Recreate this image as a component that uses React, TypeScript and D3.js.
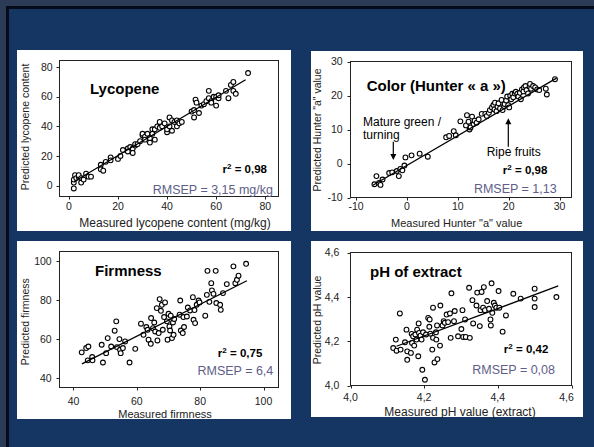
import React from "react";
import * as d3 from "d3";

// ---------- DATA ----------
const lycopenePoints: [number, number][] = [
  [2, -2], [2, 2], [2, 4], [2.5, 7], [3, 5], [4, 6], [4, 7], [5, 5], [5, 2], [6, 4], [7, 8], [8, 6], [9, 6],
  [13, 14], [13, 11], [14, 10], [15, 16], [17, 19], [17, 17], [20, 18], [21, 20], [22, 24], [24, 25], [24, 23],
  [25, 26], [26, 25], [26, 22], [27, 27], [27, 28], [28, 28], [29, 30], [30, 34], [30, 35], [31, 33], [31, 31],
  [32, 35], [33, 32], [33, 29], [34, 38], [34, 35], [35, 38], [35, 31], [36, 40], [37, 43], [37, 39], [38, 40],
  [39, 42], [40, 36], [40, 38], [41, 46], [41, 40], [42, 37], [42, 44], [43, 43], [44, 44], [44, 40], [45, 42],
  [46, 43], [50, 50], [51.6, 58], [51, 46], [51, 51], [52, 56], [53, 49], [54, 54], [55, 55], [56, 57], [57, 64],
  [57, 59], [58, 57], [58, 56], [59, 60], [60, 60], [60, 54], [61, 59], [61, 61], [64, 64], [65, 59], [66, 68],
  [67, 70], [67, 64], [68, 62], [73, 76],
];
const lycopeneFit: [number, number][] = [[2, 2.5], [72, 71.5]];

const colorPoints: [number, number][] = [
  [-6.4, -6.1], [-6.0, -3.7], [-5.5, -5.7], [-5.2, -6.3], [-4.8, -4.7], [-3.5, -2.8], [-2.9, -2.6], [-2.0, -2.2],
  [-1.6, -3.7], [-1.3, -1.6], [-0.9, -2.0], [-0.5, -0.6], [-0.3, 1.8], [0.9, 2.4], [2.5, 2.9], [4.1, 2.0],
  [7.7, 7.7], [8.3, 8.1], [9.2, 9.5], [9.6, 8.3], [10.5, 12.4], [11.6, 11.2], [11.8, 14.2], [12.1, 12.3],
  [12.3, 10.0], [12.5, 10.6], [12.8, 13.8], [13.1, 11.6], [13.3, 12.6], [13.7, 12.0], [14.1, 13.0], [14.7, 14.6],
  [15.4, 14.6], [15.7, 14.0], [16.1, 14.9], [16.3, 15.7], [16.7, 16.5], [17.0, 17.2], [17.2, 15.9], [17.3, 17.9],
  [17.6, 15.4], [17.8, 16.7], [18.0, 17.7], [18.3, 16.2], [18.6, 18.7], [18.8, 15.7], [19.1, 16.9], [19.2, 17.5],
  [19.5, 18.5], [19.7, 19.7], [19.9, 17.2], [20.1, 16.5], [20.3, 19.9], [20.5, 18.9], [20.7, 20.5], [20.9, 19.5],
  [21.2, 20.6], [21.4, 21.1], [21.7, 20.5], [21.9, 19.7], [22.2, 20.8], [22.4, 18.9], [22.6, 21.8], [22.9, 21.2],
  [23.0, 22.4], [23.3, 22.8], [23.5, 21.6], [23.8, 20.6], [24.1, 22.6], [24.2, 23.4], [24.4, 22.0], [24.8, 22.8],
  [25.2, 22.4], [25.6, 21.8], [26.0, 21.6], [27.3, 22.0], [27.5, 20.3], [29.1, 24.8],
];
const colorFit: [number, number][] = [[-6.7, -6.4], [29.4, 25.1]];

const firmnessPoints: [number, number][] = [
  [42.6, 53.2], [44.0, 55.4], [44.7, 56.2], [44.5, 49.1], [45.9, 50.8], [46.0, 49.1], [48.9, 57.1], [49.3, 48.0],
  [50.3, 52.8], [50.8, 60.5], [51.9, 56.2], [53.0, 64.3], [53.5, 69.1], [53.7, 55.9], [54.5, 60.0], [54.7, 54.5],
  [54.9, 52.8], [55.6, 55.4], [56.3, 58.8], [57.7, 48.0], [59.5, 55.0], [61.3, 67.9], [62.1, 62.2], [63.0, 66.2],
  [63.4, 64.8], [63.7, 59.7], [64.4, 57.6], [64.5, 70.8], [65.1, 65.6], [65.5, 68.5], [65.8, 63.9], [66.3, 75.9],
  [66.5, 59.3], [66.9, 63.1], [67.2, 80.5], [67.6, 74.5], [67.9, 77.6], [68.2, 64.8], [68.6, 71.3], [68.9, 78.8],
  [69.5, 69.1], [69.7, 59.7], [70.0, 73.0], [70.3, 66.5], [70.5, 64.4], [70.7, 72.0], [71.1, 60.5], [71.4, 68.5],
  [71.6, 62.2], [71.8, 70.3], [73.5, 72.5], [73.7, 79.8], [73.9, 64.4], [74.5, 63.1], [74.7, 71.3], [74.9, 66.2],
  [75.8, 71.6], [76.1, 76.2], [76.8, 74.7], [77.7, 81.5], [77.9, 69.9], [78.2, 74.9], [78.4, 68.2], [78.9, 77.6],
  [79.5, 79.8], [79.8, 78.8], [81.6, 72.0], [82.1, 82.7], [82.3, 95.0], [82.9, 79.1], [83.5, 88.7], [83.7, 85.0],
  [84.2, 83.2], [84.9, 95.0], [85.1, 78.5], [86.3, 77.6], [86.5, 75.0], [87.2, 83.6], [88.4, 88.2], [90.5, 97.3],
  [91.1, 88.7], [91.6, 90.4], [92.1, 92.5], [94.5, 98.6],
];
const firmnessFit: [number, number][] = [[42.65, 47.3], [94.75, 89.9]];

const phPoints: [number, number][] = [
  [4.116, 4.169], [4.123, 4.207], [4.125, 4.157], [4.134, 4.325], [4.136, 4.162], [4.148, 4.195], [4.152, 4.252],
  [4.154, 4.154], [4.154, 4.116], [4.164, 4.147], [4.166, 4.233], [4.167, 4.192], [4.170, 4.222], [4.173, 4.180],
  [4.176, 4.230], [4.179, 4.207], [4.181, 4.252], [4.184, 4.132], [4.185, 4.280], [4.186, 4.237], [4.190, 4.225],
  [4.193, 4.207], [4.195, 4.071], [4.197, 4.240], [4.202, 4.026], [4.205, 4.230], [4.211, 4.305], [4.214, 4.265],
  [4.215, 4.298], [4.217, 4.234], [4.222, 4.162], [4.224, 4.351], [4.224, 4.215], [4.228, 4.104], [4.232, 4.240],
  [4.233, 4.207], [4.235, 4.271], [4.236, 4.119], [4.243, 4.180], [4.244, 4.361], [4.250, 4.271], [4.253, 4.290],
  [4.256, 4.283], [4.261, 4.320], [4.265, 4.286], [4.270, 4.325], [4.272, 4.215], [4.274, 4.416], [4.281, 4.290],
  [4.283, 4.336], [4.292, 4.222], [4.301, 4.255], [4.304, 4.340], [4.306, 4.219], [4.311, 4.298], [4.313, 4.219],
  [4.324, 4.215], [4.322, 4.441], [4.331, 4.385], [4.333, 4.280], [4.342, 4.361], [4.344, 4.419], [4.351, 4.268],
  [4.353, 4.340], [4.356, 4.422], [4.360, 4.351], [4.362, 4.444], [4.365, 4.340], [4.371, 4.381], [4.376, 4.346],
  [4.380, 4.298], [4.381, 4.271], [4.383, 4.461], [4.385, 4.328], [4.389, 4.373], [4.392, 4.361], [4.396, 4.351],
  [4.402, 4.426], [4.404, 4.351], [4.413, 4.243], [4.422, 4.316], [4.442, 4.414], [4.462, 4.392], [4.500, 4.437],
  [4.500, 4.392], [4.500, 4.354], [4.559, 4.399],
];
const phFit: [number, number][] = [[4.125, 4.177], [4.564, 4.449]];

const lycopeneXTicks = [0, 20, 40, 60, 80];
const lycopeneYTicks = [0, 20, 40, 60, 80];
const colorXTicks = [-10, 0, 10, 20, 30];
const colorYTicks = [-10, 0, 10, 20, 30];
const firmnessXTicks = [40, 60, 80, 100];
const firmnessYTicks = [40, 60, 80, 100];
const phXTicks = [4.0, 4.2, 4.4, 4.6];
const phYTicks = [4.0, 4.2, 4.4, 4.6];

// ---------- STYLE / LAYOUT ----------
const FONT = "'Liberation Sans', Arial, sans-serif";
const BG = "#153663";
const RMSEP_COLOR = "#5e5e88";

const commaFmt = (digits: number) => (v: number) => v.toFixed(digits).replace(".", ",");

type Panel = {
  box: [number, number, number, number];
  frame: { left: number; right: number; top: number; bottom: number };
  xDomain: [number, number];
  yDomain: [number, number];
  xTicks: number[];
  yTicks: number[];
  fmt: (v: number) => string;
  points: [number, number][];
  fit: [number, number][];
  title: string;
  titleX: number;
  titleY: number;
  r2: string;
  r2X: number;
  r2Y: number;
  rmsep: string;
  rmsepX: number;
  rmsepY: number;
  xTitle: string;
  xTitleX: number;
  xTitleY: number;
  xTitleSize: number;
  yTitle: string;
  yTitleX: number;
  yTitleY: number;
  yLabelX: number;
  xLabelY: number;
};

const panels: Panel[] = [
  {
    box: [17, 50, 291, 231],
    frame: { left: 59.5, right: 278.5, top: 60.5, bottom: 196.5 },
    xDomain: [-3.83, 85.4],
    yDomain: [-7.43, 84.5],
    xTicks: lycopeneXTicks,
    yTicks: lycopeneYTicks,
    fmt: (v) => String(v),
    points: lycopenePoints,
    fit: lycopeneFit,
    title: "Lycopene",
    titleX: 90,
    titleY: 94,
    r2: "0,98",
    r2X: 267,
    r2Y: 173,
    rmsep: "RMSEP = 3,15 mg/kg",
    rmsepX: 273,
    rmsepY: 193.5,
    xTitle: "Measured lycopene content (mg/kg)",
    xTitleX: 175,
    xTitleY: 227,
    xTitleSize: 12,
    yTitle: "Predicted lycopene content",
    yTitleX: 29,
    yTitleY: 127,
    yLabelX: 52.7,
    xLabelY: 209.5,
  },
  {
    box: [311, 51, 583, 231],
    frame: { left: 350.5, right: 571.5, top: 61.5, bottom: 197.5 },
    xDomain: [-11.1, 32.35],
    yDomain: [-10, 30],
    xTicks: colorXTicks,
    yTicks: colorYTicks,
    fmt: (v) => String(v),
    points: colorPoints,
    fit: colorFit,
    title: "Color (Hunter \u00ab a \u00bb)",
    titleX: 366.7,
    titleY: 91,
    r2: "0,98",
    r2X: 547.3,
    r2Y: 174,
    rmsep: "RMSEP = 1,13",
    rmsepX: 556.7,
    rmsepY: 193,
    xTitle: 'Measured Hunter "a" value',
    xTitleX: 456.7,
    xTitleY: 227,
    xTitleSize: 11,
    yTitle: 'Predicted Hunter "a" value',
    yTitleX: 321,
    yTitleY: 130,
    yLabelX: 342.7,
    xLabelY: 209.5,
  },
  {
    box: [17, 241, 291, 419],
    frame: { left: 59.5, right: 278.5, top: 251.5, bottom: 387.5 },
    xDomain: [35.58, 104.73],
    yDomain: [35.18, 104.92],
    xTicks: firmnessXTicks,
    yTicks: firmnessYTicks,
    fmt: (v) => String(v),
    points: firmnessPoints,
    fit: firmnessFit,
    title: "Firmness",
    titleX: 95,
    titleY: 276,
    r2: "0,75",
    r2X: 262.3,
    r2Y: 357,
    rmsep: "RMSEP = 6,4",
    rmsepX: 273.3,
    rmsepY: 374.5,
    xTitle: "Measured firmness",
    xTitleX: 165,
    xTitleY: 417.5,
    xTitleSize: 11,
    yTitle: "Predicted firmness",
    yTitleX: 29,
    yTitleY: 321.7,
    yLabelX: 51.7,
    xLabelY: 404.7,
  },
  {
    box: [311, 241, 583, 417],
    frame: { left: 350.5, right: 571.5, top: 252.5, bottom: 385.5 },
    xDomain: [4.0, 4.6],
    yDomain: [4.0, 4.6],
    xTicks: phXTicks,
    yTicks: phYTicks,
    fmt: commaFmt(1),
    points: phPoints,
    fit: phFit,
    title: "pH of extract",
    titleX: 370,
    titleY: 276.7,
    r2: "0,42",
    r2X: 548.3,
    r2Y: 352.5,
    rmsep: "RMSEP = 0,08",
    rmsepX: 555,
    rmsepY: 373.5,
    xTitle: "Measured pH value (extract)",
    xTitleX: 460,
    xTitleY: 416,
    xTitleSize: 12,
    yTitle: "Predicted pH value",
    yTitleX: 320.7,
    yTitleY: 320,
    yLabelX: 339.3,
    xLabelY: 400.7,
  },
];

function PanelView({ p, children }: { p: Panel; children?: React.ReactNode }) {
  const x = d3.scaleLinear().domain(p.xDomain).range([p.frame.left, p.frame.right]);
  const y = d3.scaleLinear().domain(p.yDomain).range([p.frame.bottom, p.frame.top]);
  const line = d3
    .line<[number, number]>()
    .x((d) => x(d[0]))
    .y((d) => y(d[1]));
  const [bx0, by0, bx1, by1] = p.box;
  const f = p.frame;
  const lastX = p.xTicks[p.xTicks.length - 1];
  return (
    <g fontFamily={FONT}>
      <rect x={bx0} y={by0} width={bx1 - bx0} height={by1 - by0} fill="#ffffff" />
      <rect
        x={f.left}
        y={f.top}
        width={f.right - f.left}
        height={f.bottom - f.top}
        fill="none"
        stroke="#222"
        strokeWidth={1}
      />
      {p.yTicks.map((t) => (
        <g key={"y" + t}>
          <line x1={f.left - 3} x2={f.left} y1={Math.round(y(t)) + 0.5} y2={Math.round(y(t)) + 0.5} stroke="#222" />
          <text x={p.yLabelX} y={y(t)} dy="0.35em" textAnchor="end" fontSize={10.5} fill="#222">
            {p.fmt(t)}
          </text>
        </g>
      ))}
      {p.xTicks.map((t) => (
        <g key={"x" + t}>
          <line x1={Math.round(x(t)) + 0.5} x2={Math.round(x(t)) + 0.5} y1={f.bottom} y2={f.bottom + 3} stroke="#222" />
          <text
            x={Math.min(x(t), f.right - 5)}
            y={p.xLabelY}
            textAnchor="middle"
            fontSize={10.5}
            fill="#222"
          >
            {p.fmt(t)}
          </text>
        </g>
      ))}
      {p.points.map((d, i) => (
        <circle key={i} cx={x(d[0])} cy={y(d[1])} r={2.4} fill="#fff" stroke="#000" strokeWidth={1.1} />
      ))}
      <path d={line(p.fit) || ""} stroke="#000" strokeWidth={1.3} fill="none" />
      <text x={p.titleX} y={p.titleY} fontSize={15} fontWeight="bold" fill="#000">
        {p.title}
      </text>
      <text x={p.r2X} y={p.r2Y} textAnchor="end" fontSize={11.5} fontWeight="bold" fill="#000">
        r
        <tspan fontSize={8} dy={-4}>
          2
        </tspan>
        <tspan dy={4}>{" = " + p.r2}</tspan>
      </text>
      <text x={p.rmsepX} y={p.rmsepY} textAnchor="end" fontSize={12.5} fill={RMSEP_COLOR}>
        {p.rmsep}
      </text>
      <text x={p.xTitleX} y={p.xTitleY} textAnchor="middle" fontSize={p.xTitleSize} fill="#222">
        {p.xTitle}
      </text>
      <text
        transform={`translate(${p.yTitleX},${p.yTitleY}) rotate(-90)`}
        textAnchor="middle"
        fontSize={10.5}
        fill="#222"
      >
        {p.yTitle}
      </text>
      {children}
    </g>
  );
}

function Arrow({ x, y1, y2 }: { x: number; y1: number; y2: number }) {
  const dir = y2 > y1 ? 1 : -1;
  return (
    <g>
      <line x1={x} x2={x} y1={y1} y2={y2 - dir * 4} stroke="#000" strokeWidth={1.2} />
      <path d={`M${x - 3},${y2 - dir * 6} L${x + 3},${y2 - dir * 6} L${x},${y2} Z`} fill="#000" />
    </g>
  );
}

export default function App() {
  return (
    <svg
      width={594}
      height={447}
      style={{ position: "absolute", left: 0, top: 0, display: "block" }}
    >
      <rect x={0} y={0} width={594} height={447} fill={BG} />
      <rect x={0} y={0} width={594} height={6} fill="#2b3a55" />
      <rect x={0} y={0} width={6} height={447} fill="#2b3a55" />
      <rect x={6} y={6} width={588} height={3} fill="#050b18" />
      <rect x={6} y={6} width={3} height={441} fill="#050b18" />
      <PanelView p={panels[0]} />
      <PanelView p={panels[1]}>
        <g fontFamily={FONT} fontSize={12} fill="#000">
          <text x={363} y={126}>
            Mature green /
          </text>
          <text x={363} y={138.5}>
            turning
          </text>
          <text x={486.7} y={156}>
            Ripe fruits
          </text>
        </g>
        <Arrow x={393.3} y1={141.7} y2={160} />
        <Arrow x={508.3} y1={146.7} y2={118.3} />
      </PanelView>
      <PanelView p={panels[2]} />
      <PanelView p={panels[3]} />
    </svg>
  );
}
